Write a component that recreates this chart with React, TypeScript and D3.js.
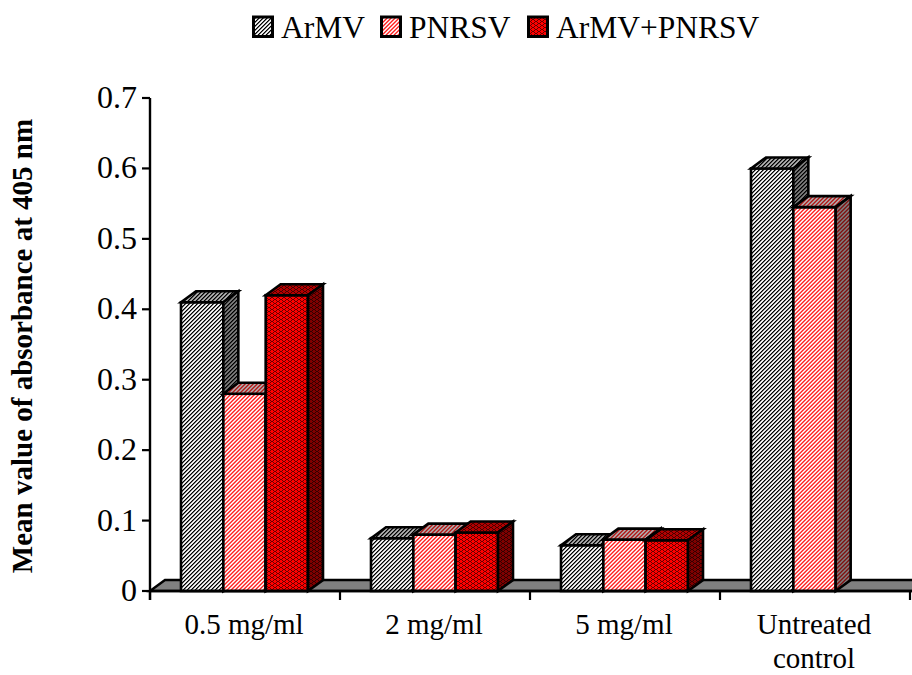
import React from "react";
import * as d3 from "d3";

const categories = ["0.5 mg/ml", "2 mg/ml", "5 mg/ml", "Untreated control"];
const seriesNames = ["ArMV", "PNRSV", "ArMV+PNRSV"];
const armv = [0.41, 0.075, 0.065, 0.6];
const pnrsv = [0.28, 0.08, 0.073, 0.545];
const combined = [0.42, 0.083, 0.072, 0];
const yTicks = [0, 0.1, 0.2, 0.3, 0.4, 0.5, 0.6, 0.7];
const seriesValues = [armv, pnrsv, combined];

const FONT = "'Liberation Serif', serif";
const DX = 15;
const DY = 11;
const W = 912;
const H = 675;

const y = d3.scaleLinear().domain([0, 0.7]).range([591, 98]);
const x0 = d3.scaleBand<string>().domain(categories).range([150, 910]);
const x1 = d3.scaleBand<string>().domain(seriesNames).range([31, 158]);

const pal = [
  { id: "a", colors: ["#000000", "#707070", "#ffffff", "#d8d8d8"], kind: "diag" },
  { id: "b", colors: ["#ff2020", "#ff7070", "#ffffff", "#ffb8b8"], kind: "diag" },
  { id: "c", colors: ["#ff0000", "#600000"], kind: "weave" },
];

function Pat({ id, colors, kind, shade }: { id: string; colors: string[]; kind: string; shade: number }) {
  const pw = kind === "diag" ? 4 : 6;
  const ph = 4;
  const pixels: { px: number; py: number; c: string }[] = [];
  if (kind === "diag") {
    for (let r = 0; r < 4; r++) {
      for (let k = 0; k < 4; k++) {
        pixels.push({ px: (k - r + 4) % 4, py: r, c: colors[k] });
      }
    }
  } else {
    pixels.push(
      { px: 0, py: 0, c: colors[1] },
      { px: 1, py: 1, c: colors[1] },
      { px: 2, py: 1, c: colors[1] },
      { px: 3, py: 0, c: colors[1] },
      { px: 3, py: 2, c: colors[1] },
      { px: 4, py: 3, c: colors[1] },
      { px: 5, py: 3, c: colors[1] },
      { px: 0, py: 2, c: colors[1] }
    );
  }
  return (
    <pattern id={id} patternUnits="userSpaceOnUse" width={pw} height={ph}>
      <rect width={pw} height={ph} fill={kind === "diag" ? "#fff" : colors[0]} />
      {pixels.map((p, i) => (
        <rect key={i} x={p.px} y={p.py} width={1} height={1} fill={p.c} shapeRendering="crispEdges" />
      ))}
      {shade > 0 && <rect width={pw} height={ph} fill="#000" opacity={shade} />}
    </pattern>
  );
}

function Bar({ sx, v, s }: { sx: number; v: number; s: number }) {
  const w = x1.bandwidth();
  const t = y(v);
  const b = y(0);
  const id = pal[s].id;
  return (
    <g stroke="#000" strokeWidth={2.6} strokeLinejoin="miter">
      <rect x={sx} y={t} width={w} height={b - t} fill={`url(#${id}f)`} />
      <path d={`M${sx},${t} l${DX},${-DY} h${w} l${-DX},${DY} z`} fill={`url(#${id}t)`} />
      <path d={`M${sx + w},${t} l${DX},${-DY} V${b - DY} l${-DX},${DY} z`} fill={`url(#${id}s)`} />
    </g>
  );
}

export default function App() {
  const legendBoxes = [252, 380, 527];
  return (
    <svg width={W} height={H} viewBox={`0 0 ${W} ${H}`} style={{ position: "absolute", left: 0, top: 0, fontFamily: FONT }}>
      <defs>
        {pal.map((p) => (
          <React.Fragment key={p.id}>
            <Pat id={`${p.id}f`} colors={p.colors} kind={p.kind} shade={0} />
            <Pat id={`${p.id}t`} colors={p.colors} kind={p.kind} shade={0.3} />
            <Pat id={`${p.id}s`} colors={p.colors} kind={p.kind} shade={0.5} />
          </React.Fragment>
        ))}
      </defs>

      {/* floor */}
      <path d={`M${x0.range()[0]},${y(0)} l${DX},${-DY} H${W + 4} V${y(0)} z`} fill="#808080" stroke="#000" strokeWidth={2.4} />

      {/* bars */}
      {categories.map((c, i) => (
        <g key={c}>
          {seriesNames.map((n, s) =>
            seriesValues[s][i] > 0 ? (
              <Bar key={n} sx={(x0(c) as number) + (x1(n) as number)} v={seriesValues[s][i]} s={s} />
            ) : null
          )}
        </g>
      ))}

      {/* y axis */}
      <line x1={150} x2={150} y1={y(0.7)} y2={y(0) + 9} stroke="#000" strokeWidth={2.4} />
      {yTicks.map((t) => (
        <g key={t}>
          <line x1={142} x2={150} y1={y(t)} y2={y(t)} stroke="#000" strokeWidth={2.2} />
          <text x={137} y={y(t) + 10} textAnchor="end" fontSize={32} fill="#000">
            {t}
          </text>
        </g>
      ))}

      {/* x axis */}
      <line x1={150} x2={W} y1={y(0)} y2={y(0)} stroke="#000" strokeWidth={2.4} />
      {d3.range(0, categories.length + 1).map((i) => {
        const xp = 150 + i * x0.bandwidth();
        return <line key={i} x1={xp} x2={xp} y1={y(0)} y2={y(0) + 9} stroke="#000" strokeWidth={2.2} />;
      })}
      {categories.map((c) => {
        const cx = (x0(c) as number) + x0.bandwidth() / 2 - 1;
        const parts = c === "Untreated control" ? ["Untreated", "control"] : [c];
        return parts.map((p, k) => (
          <text key={p} x={cx} y={634 + k * 34} textAnchor="middle" fontSize={29} fill="#000">
            {p}
          </text>
        ));
      })}

      {/* y title */}
      <text transform="translate(32,346) rotate(-90)" textAnchor="middle" fontSize={29} fontWeight="bold" fill="#000">
        Mean value of absorbance at 405 nm
      </text>

      {/* legend */}
      {seriesNames.map((n, s) => (
        <g key={n}>
          <rect x={legendBoxes[s] + 1.5} y={17} width={19} height={19.5} fill={`url(#${pal[s].id}f)`} stroke="#000" strokeWidth={3} />
          <text x={legendBoxes[s] + 29} y={38} fontSize={31.5} fill="#000">
            {n}
          </text>
        </g>
      ))}
    </svg>
  );
}
